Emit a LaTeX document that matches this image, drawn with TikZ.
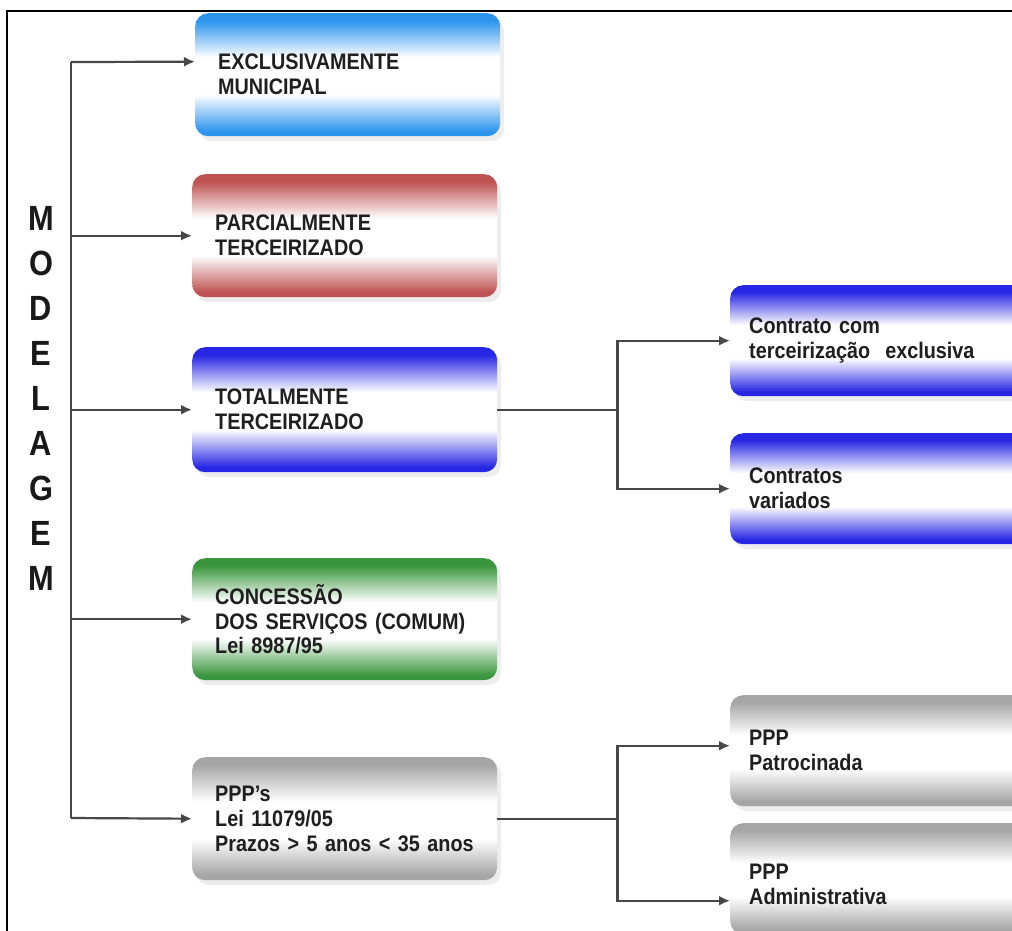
\documentclass[tikz,border=0pt]{standalone}
\usepackage{fontspec}
\setmainfont{Liberation Sans}
\newfontfamily\narrowsans[FakeStretch=0.88]{Liberation Sans}
\usetikzlibrary{shadows,arrows.meta}

\definecolor{munblue}{RGB}{45,148,238}
\definecolor{parred}{RGB}{190,82,82}
\definecolor{totblue}{RGB}{38,38,228}
\definecolor{congreen}{RGB}{58,150,62}
\definecolor{pppgray}{RGB}{165,165,165}

% colour band top and bottom, white in the middle
\pgfdeclareverticalshading[boxcol]{boxshade}{100bp}{color(0bp)=(boxcol); color(27bp)=(boxcol); color(42bp)=(white); color(57bp)=(white); color(72bp)=(boxcol); color(100bp)=(boxcol)}

\tikzset{
	box/.style={rounded corners=13pt, anchor=north west, minimum width=305pt, minimum height=123pt,
		inner xsep=23pt, inner ysep=0pt, text width=259pt, align=left, text=black!88,
		font=\narrowsans\bfseries\fontsize{22.5}{25}\selectfont,
		drop shadow={shadow xshift=4pt, shadow yshift=-5pt, fill=black, opacity=0.07}},
	subbox/.style={box, minimum width=310pt, minimum height=111pt, inner xsep=19pt, text width=272pt},
	boxfill/.style={/utils/exec={\colorlet{boxcol}{#1}}, shading=boxshade},
	title/.style={font=\narrowsans\bfseries\fontsize{35}{45}\selectfont, align=center, inner sep=0pt, text=black!90},
	link/.style={draw=black!72, line width=2.2pt},
	conn/.style={link, -{Latex[length=11pt,width=10pt]}},
	frame/.style={draw=black, line width=2pt}
}

\begin{document}
\begin{tikzpicture}[x=1pt, y=-1pt]
	\useasboundingbox (0,0) rectangle (1012,930);
	\clip (0,0) rectangle (1012,930);
	\fill[white] (0,0) rectangle (1012,930);
	\draw[frame] (7,940) -- (7,11) -- (1020,11);

	\node[title] (mod) at (41,398) {M\\O\\D\\E\\L\\A\\G\\E\\M};

	\node[box, boxfill=munblue] (mun) at (195,13) {EXCLUSIVAMENTE\\MUNICIPAL};
	\node[box, boxfill=parred] (par) at (192,174) {PARCIALMENTE\\TERCEIRIZADO};
	\node[box, boxfill=totblue, minimum height=125pt] (tot) at (192,347) {TOTALMENTE\\TERCEIRIZADO};
	\node[box, boxfill=congreen, minimum height=122pt] (con) at (192,558) {CONCESSÃO\\DOS SERVIÇOS (COMUM)\\Lei 8987/95};
	\node[box, boxfill=pppgray] (ppp) at (192,757) {PPP’s\\Lei 11079/05\\Prazos > 5 anos < 35 anos};

	\node[subbox, boxfill=totblue] (ctr) at (730,285) {Contrato com\\terceirização\ \ exclusiva};
	\node[subbox, boxfill=totblue] (var) at (730,433) {Contratos\\variados};
	\node[subbox, boxfill=pppgray] (pat) at (730,695) {PPP\\Patrocinada};
	\node[subbox, boxfill=pppgray, text depth=14pt] (adm) at (730,823) {PPP\\Administrativa};

	\coordinate (tTop) at (71,62);
	\coordinate (tBot) at (71,818);
	\draw[link] (tTop) -- (tBot);
	\draw[conn] (tTop) -- ([yshift=13pt]mun.west);
	\draw[conn] (tTop |- par.west) -- (par.west);
	\draw[conn] (tTop |- tot.west) -- (tot.west);
	\draw[conn] (tTop |- con.west) -- (con.west);
	\draw[conn] (tBot) -- (ppp.west);

	\coordinate (sTot) at ([xshift=120pt]tot.east);
	\draw[link] (tot.east) -- (sTot);
	\draw[conn] (sTot) |- (ctr.west);
	\draw[conn] (sTot) |- (var.west);

	\coordinate (sPpp) at ([xshift=120pt]ppp.east);
	\draw[link] (ppp.east) -- (sPpp);
	\draw[conn] (sPpp) |- ([yshift=5pt]pat.west);
	\draw[conn] (sPpp) |- ([yshift=-22pt]adm.west);
\end{tikzpicture}
\end{document}
